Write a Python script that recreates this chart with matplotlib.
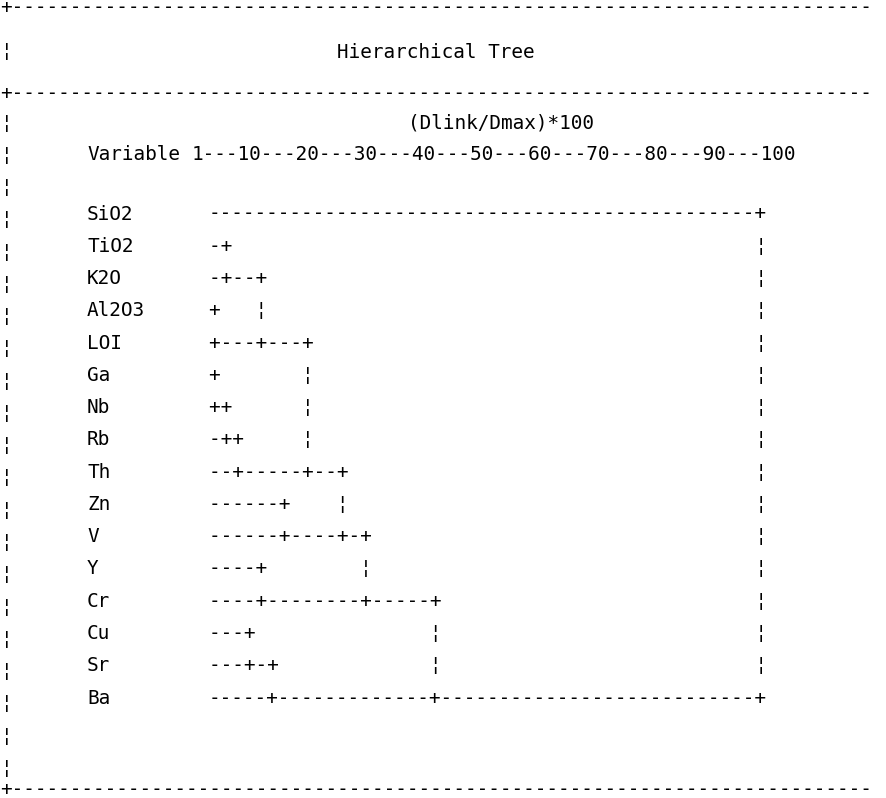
# Hierarchical tree (text dendrogram) recreated as monospace printout
import matplotlib
matplotlib.use("Agg")
import matplotlib.pyplot as plt

# ------------------------------
# Data
# ------------------------------
title = "Hierarchical Tree"
axis_label = "(Dlink/Dmax)*100"
scale_ticks = [1, 10, 20, 30, 40, 50, 60, 70, 80, 90, 100]

variables = ["SiO2", "TiO2", "K2O", "Al2O3", "LOI", "Ga", "Nb", "Rb",
             "Th", "Zn", "V", "Y", "Cr", "Cu", "Sr", "Ba"]

# tree rows, first char sits under the scale just right of "1"
tree_rows = [
    "-----------------------------------------------+",
    "-+                                             \u00a6",
    "-+--+                                          \u00a6",
    "+   \u00a6                                          \u00a6",
    "+---+---+                                      \u00a6",
    "+       \u00a6                                      \u00a6",
    "++      \u00a6                                      \u00a6",
    "-++     \u00a6                                      \u00a6",
    "--+-----+--+                                   \u00a6",
    "------+    \u00a6                                   \u00a6",
    "------+----+-+                                 \u00a6",
    "----+        \u00a6                                 \u00a6",
    "----+--------+-----+                           \u00a6",
    "---+               \u00a6                           \u00a6",
    "---+-+             \u00a6                           \u00a6",
    "-----+-------------+---------------------------+",
]

# ------------------------------
# Layout (character grid)
# ------------------------------
W, H = 886, 798
cw = 11.7            # character width in px
x_off = 0.5          # left edge of column 0
fs = cw / 0.602 * 72 / 100   # font size so mono advance == cw
mono = "DejaVu Sans Mono"

def cx(col):
    return x_off + col * cw

fig = plt.figure(figsize=(W / 100, H / 100), dpi=100)
ax = fig.add_axes([0, 0, 1, 1])
ax.set_xlim(0, W)
ax.set_ylim(H, 0)
ax.axis("off")

def put(col, y, s, **kw):
    ax.text(cx(col), y, s, family=mono, fontsize=fs, ha="left",
            va="center", color="black", **kw)

border = "+" + "-" * 74
y_top, y_title, y_sep = 8, 52, 93
y_label, y_scale = 123, 155
y_first, dy = 214, 32.27
y_bottom = 790

put(0, y_top, border)
put(0, y_title, "\u00a6")
ax.text(436, y_title, title, family=mono, fontsize=fs,
        ha="center", va="center", color="black")
put(0, y_sep, border)

# left vertical border
y = y_label
while y < y_bottom - 15:
    put(0, y, "\u00a6")
    y += dy

put(34.8, y_label, axis_label)
scale = "---".join(str(t) for t in scale_ticks)
put(7.4, y_scale, "Variable")
put(16.3, y_scale, scale)

for i, (name, row) in enumerate(zip(variables, tree_rows)):
    yy = y_first + i * dy
    put(7.4, yy, name)
    put(17.8, yy, row)

put(0, y_bottom, border)

fig.savefig("out.png", dpi=100, facecolor="white")
